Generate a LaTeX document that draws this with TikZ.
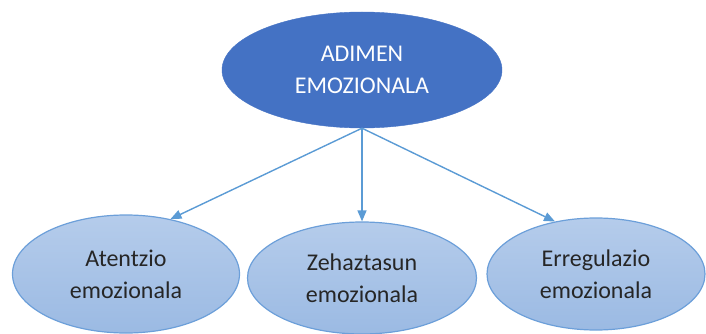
\documentclass[tikz,border=0pt]{standalone}
\usepackage{fontspec}
\setmainfont{Carlito}
\usetikzlibrary{shapes.geometric, arrows.meta}
\definecolor{topblue}{HTML}{4472C4}
\definecolor{lineblue}{HTML}{5B9BD5}
\definecolor{lighttop}{HTML}{B5CCEB}
\definecolor{lightbot}{HTML}{9BBAE3}
\definecolor{edgeblue}{HTML}{6C9FD9}
\definecolor{textdark}{HTML}{262626}
\begin{document}
\begin{tikzpicture}[x=1pt, y=-1pt,
    >={Triangle[length=11pt, width=9pt]},
    mainnode/.style={ellipse, fill=topblue, draw=topblue, text=white, inner sep=0pt,
        align=center, font=\fontsize{24}{32}\selectfont},
    subnode/.style={ellipse, top color=lighttop, bottom color=lightbot, draw=edgeblue,
        line width=1.2pt, text=textdark, inner sep=0pt, align=center,
        font=\fontsize{24}{32}\selectfont},
    link/.style={->, draw=lineblue, fill=lineblue, line width=1.4pt}]
    % 1. 画布范围
    \useasboundingbox (0,0) rectangle (706,334);

    % 2. 中心节点
    \node[mainnode, minimum width=280pt, minimum height=116pt] (adimen) at (362,70)
        {ADIMEN\\EMOZIONALA};

    % 3. 下层三个节点
    \node[subnode, minimum width=227pt, minimum height=118pt] (atentzio) at (126,274)
        {Atentzio\\emozionala};
    \node[subnode, minimum width=229pt, minimum height=112pt] (zehaztasun) at (362,278)
        {Zehaztasun\\emozionala};
    \node[subnode, minimum width=218pt, minimum height=112pt] (erregulazio) at (596,274)
        {Erregulazio\\emozionala};

    % 4. 箭头
    \draw[link] (adimen.south) -- (atentzio.51);
    \draw[link] (adimen.south) -- (zehaztasun.north);
    \draw[link] (adimen.south) -- (erregulazio.128);
\end{tikzpicture}
\end{document}
